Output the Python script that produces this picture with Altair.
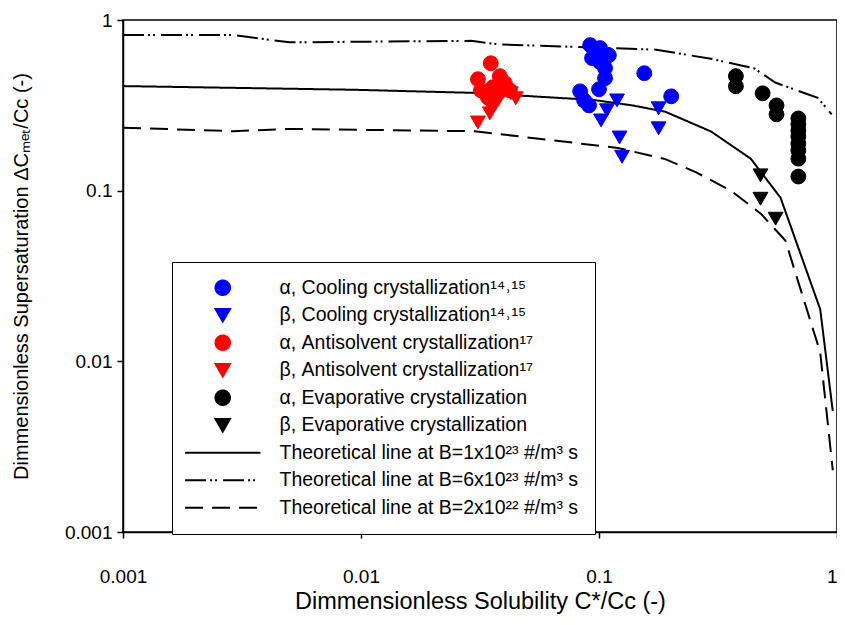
import altair as alt
import pandas as pd

# ---------------- data ----------------
SERIES = [
    "α, Cooling crystallization¹⁴˒¹⁵",
    "β, Cooling crystallization¹⁴˒¹⁵",
    "α, Antisolvent crystallization¹⁷",
    "β, Antisolvent crystallization¹⁷",
    "α, Evaporative crystallization",
    "β, Evaporative crystallization",
    "Theoretical line at B=1x10²³ #/m³ s",
    "Theoretical line at B=6x10²³ #/m³ s",
    "Theoretical line at B=2x10²² #/m³ s",
]

alpha_cool_x = [0.0918, 0.101, 0.110, 0.0935, 0.101, 0.106, 0.106, 0.100, 0.0833, 0.0908, 0.0866, 0.155, 0.201]
alpha_cool_y = [0.713, 0.685, 0.622, 0.598, 0.566, 0.522, 0.456, 0.393, 0.382, 0.316, 0.338, 0.488, 0.357]

beta_cool_x = [0.119, 0.108, 0.102, 0.122, 0.125, 0.178, 0.178]
beta_cool_y = [0.338, 0.296, 0.258, 0.205, 0.158, 0.304, 0.232]

alpha_anti_x = [0.0351, 0.031, 0.0383, 0.0402, 0.0422, 0.0319, 0.0358, 0.0341, 0.0376]
alpha_anti_y = [0.558, 0.45, 0.469, 0.426, 0.387, 0.387, 0.404, 0.352, 0.372]

beta_anti_x = [0.0447, 0.0426, 0.0355, 0.0348, 0.031, 0.0376]
beta_anti_y = [0.348, 0.372, 0.304, 0.284, 0.251, 0.338]

alpha_evap_x = [0.376, 0.376, 0.487, 0.557, 0.557, 0.688, 0.688, 0.688, 0.688, 0.688, 0.688, 0.688, 0.688]
alpha_evap_y = [0.469, 0.409, 0.372, 0.316, 0.28, 0.265, 0.245, 0.225, 0.208, 0.189, 0.172, 0.154, 0.121]

beta_evap_x = [0.477, 0.477, 0.552]
beta_evap_y = [0.123, 0.0897, 0.0685]

line_b1_x = [0.001, 0.0095, 0.030, 0.095, 0.138, 0.19, 0.296, 0.434, 0.579, 0.85, 0.96]
line_b1_y = [0.41, 0.39, 0.374, 0.34, 0.316, 0.29, 0.222, 0.154, 0.091, 0.0202, 0.0051]

line_b6_x = [0.001, 0.0029, 0.005, 0.029, 0.038, 0.174, 0.30, 0.40, 0.45, 0.55, 0.83, 0.95]
line_b6_y = [0.816, 0.816, 0.74, 0.755, 0.72, 0.67, 0.59, 0.54, 0.52, 0.43, 0.35, 0.28]

line_b02_x = [0.001, 0.0029, 0.005, 0.030, 0.12, 0.19, 0.256, 0.358, 0.48, 0.607, 0.85, 0.96]
line_b02_y = [0.234, 0.223, 0.23, 0.223, 0.178, 0.153, 0.128, 0.10, 0.073, 0.051, 0.0113, 0.0023]

x_ticks = [0.001, 0.01, 0.1, 1]
y_ticks = [0.001, 0.01, 0.1, 1]

# ---------------- tables ----------------
pt_sets = [
    (alpha_cool_x, alpha_cool_y), (beta_cool_x, beta_cool_y),
    (alpha_anti_x, alpha_anti_y), (beta_anti_x, beta_anti_y),
    (alpha_evap_x, alpha_evap_y), (beta_evap_x, beta_evap_y),
]
ln_sets = [(line_b1_x, line_b1_y), (line_b6_x, line_b6_y), (line_b02_x, line_b02_y)]

pts = pd.concat([pd.DataFrame({"x": xs, "y": ys, "series": SERIES[i]}) for i, (xs, ys) in enumerate(pt_sets)])
lns = pd.concat([pd.DataFrame({"x": xs, "y": ys, "series": SERIES[6 + i]}) for i, (xs, ys) in enumerate(ln_sets)])

# ---------------- styling ----------------
FONT = "Liberation Sans"
colors = ["#0000FF", "#0000FF", "#FF0000", "#FF0000", "#000000", "#000000", "#000000", "#000000", "#000000"]
LINE_SYM = "M-5.2,0L5.2,0"
shapes = ["circle", "triangle-down", "circle", "triangle-down", "circle", "triangle-down", LINE_SYM, LINE_SYM, LINE_SYM]
dashes = [[1, 0]] * 7 + [[21, 4, 2, 3, 2, 6], [18, 9]]

legend = alt.Legend(
    orient="none", legendX=49, legendY=242, title=None,
    strokeColor="black", fillColor="white", padding=16,
    symbolOffset=25, labelOffset=47, rowPadding=4.5, gridAlign="all",
    labelFontSize=19.5, labelFont=FONT, labelColor="black", labelLimit=600,
    symbolSize=210, symbolStrokeWidth=2,
)

fill_scale = alt.Scale(domain=SERIES, range=colors)
stroke_scale = alt.Scale(domain=SERIES, range=colors)
shape_scale = alt.Scale(domain=SERIES, range=shapes)
dash_scale = alt.Scale(domain=SERIES, range=dashes)

xs = alt.Scale(type="log", domain=[0.001, 1], nice=False)
ys = alt.Scale(type="log", domain=[0.001, 1], nice=False)

x_enc = alt.X("x:Q", scale=xs, axis=alt.Axis(
    values=x_ticks, format="~g", grid=False, tickSize=6, labelPadding=29, labelFlush=False,
    labelAlign={"condition": {"test": "datum.value >= 1", "value": "right"}, "value": "center"},
    title="Dimmensionless Solubility C*/Cc (-)", titlePadding=3, titleFontSize=23.5))
y_enc = alt.Y("y:Q", scale=ys, axis=alt.Axis(
    values=y_ticks, format="~g", grid=False, tickSize=6, labelPadding=5,
    title="Dimmensionless Supersaturation ΔCₘₑₜ/Cc (-)", titlePadding=33, titleFontSize=20))

lines = alt.Chart(lns).mark_line(strokeWidth=2).encode(
    x=x_enc, y=y_enc,
    stroke=alt.Stroke("series:N", scale=stroke_scale, legend=legend),
    strokeDash=alt.StrokeDash("series:N", scale=dash_scale, legend=legend),
)

points = alt.Chart(pts).mark_point(filled=True, opacity=1, strokeWidth=1, size=220).encode(
    x=x_enc, y=y_enc,
    fill=alt.Fill("series:N", scale=fill_scale, legend=legend),
    stroke=alt.Stroke("series:N", scale=stroke_scale, legend=legend),
    shape=alt.Shape("series:N", scale=shape_scale, legend=legend),
)

chart = alt.layer(lines, points).properties(
    width=714, height=512,
    autosize=alt.AutoSizeParams(type="none"),
    padding={"left": 115, "top": 12, "right": 0, "bottom": 85},
).configure_view(
    stroke="black", strokeWidth=1.5
).configure_axis(
    domainColor="black", tickColor="black", labelColor="black", titleColor="black",
    labelFont=FONT, titleFont=FONT, labelFontSize=19,
    titleFontWeight="normal", domainWidth=1.5, tickWidth=1.5,
)

chart.save("out.html", embed_options={"renderer": "svg", "actions": False})
